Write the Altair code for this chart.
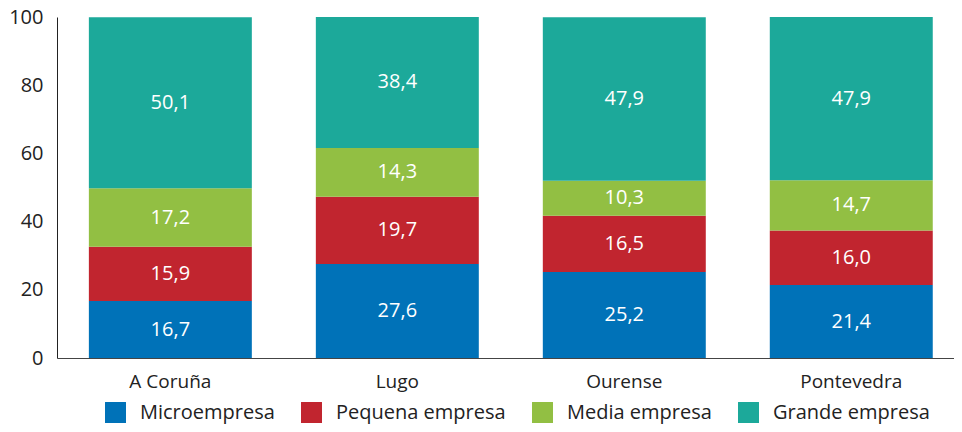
import altair as alt
import pandas as pd

provinces = ["A Coruña", "Lugo", "Ourense", "Pontevedra"]
sizes = ["Microempresa", "Pequena empresa", "Media empresa", "Grande empresa"]
micro = [16.7, 27.6, 25.2, 21.4]
pequena = [15.9, 19.7, 16.5, 16.0]
media = [17.2, 14.3, 10.3, 14.7]
grande = [50.1, 38.4, 47.9, 47.9]
colors = ["#0072B8", "#C1252F", "#92BF43", "#1CA99A"]

rows = []
for i, p in enumerate(provinces):
    for j, (s, vals) in enumerate(zip(sizes, [micro, pequena, media, grande])):
        v = vals[i]
        rows.append({"provincia": p, "tamano": s, "orden": j, "valor": v,
                     "etiqueta": f"{v:.1f}".replace(".", ",")})
df = pd.DataFrame(rows)

FONT = "Open Sans"

base = alt.Chart(df).encode(
    x=alt.X("provincia:N", sort=provinces, title=None,
            scale=alt.Scale(paddingInner=0.282, paddingOuter=0.117, align=0.6),
            axis=alt.Axis(labelAngle=0, ticks=False, domainColor="#444",
                          labelPadding=14, labelFontSize=19, labelColor="#222",
                          labelFont=FONT)),
    y=alt.Y("valor:Q", stack="zero", title=None,
            scale=alt.Scale(domain=[0, 100], nice=False),
            axis=alt.Axis(values=[0, 20, 40, 60, 80, 100], grid=False, ticks=False,
                          domainColor="#222", labelPadding=14, labelFontSize=20,
                          labelColor="#222", labelFont=FONT)),
    order=alt.Order("orden:Q"),
)

bars = base.mark_bar().encode(
    color=alt.Color("tamano:N", sort=sizes,
                    scale=alt.Scale(domain=sizes, range=colors),
                    legend=alt.Legend(title=None, orient="none", direction="horizontal",
                                      legendX=48, legendY=385,
                                      symbolType="square", symbolSize=440,
                                      symbolStrokeWidth=0, labelFontSize=20,
                                      labelFont=FONT, labelColor="#222",
                                      labelOffset=14, columnPadding=26,
                                      labelLimit=300)),
)

labels = base.mark_text(color="white", fontSize=20, font=FONT).encode(
    y=alt.Y("mid:Q"),
    text="etiqueta:N",
).transform_stack(
    stack="valor", groupby=["provincia"], sort=[alt.SortField("orden")], as_=["y0", "y1"]
).transform_calculate(mid="(datum.y0 + datum.y1) / 2")

chart = (bars + labels).properties(
    width=897, height=341,
    autosize=alt.AutoSizeParams(type="none"),
    padding={"left": 49, "top": 9, "right": 0, "bottom": 66},
).configure_view(stroke=None)

chart.save("out.html", embed_options={"renderer": "svg", "actions": False})
